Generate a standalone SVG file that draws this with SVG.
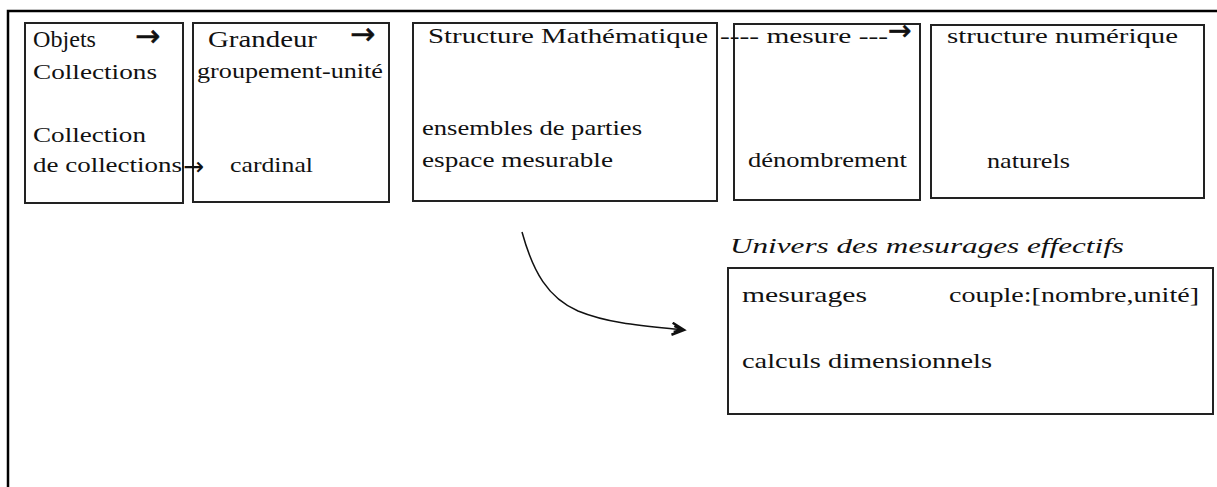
<svg xmlns="http://www.w3.org/2000/svg" width="1217" height="487" viewBox="0 0 1217 487">
<style>
.box{fill:none;stroke:#222;stroke-width:2}
.t{font-family:'Liberation Serif','DejaVu Serif','Times New Roman',serif;font-size:22px;fill:#111}
.arr{font-family:'DejaVu Sans','Liberation Sans',sans-serif;font-size:30px;fill:#111;stroke:#111;stroke-width:0.6}
.it{font-style:italic}
</style>
<defs>
<marker id="ah" markerWidth="16" markerHeight="14" refX="13" refY="7" orient="auto" markerUnits="userSpaceOnUse">
<path d="M1,1 L13,7 L1,13 M3,4 L11,7 L3,10" fill="none" stroke="#111" stroke-width="2.5"/>
</marker>
</defs>
<rect x="0" y="0" width="1217" height="487" fill="#fff"/>
<path d="M8,487 V11 H1217" fill="none" stroke="#000" stroke-width="2.5"/>

<g id="n-objets">
<rect class="box" x="25" y="23" width="158" height="180"/>
<text class="t" x="33" y="47" textLength="63" lengthAdjust="spacingAndGlyphs" style="font-size:23px">Objets</text>
<text class="arr" x="135" y="46">→</text>
<text class="t" x="33" y="79" textLength="124" lengthAdjust="spacingAndGlyphs">Collections</text>
<text class="t" x="33" y="142" textLength="113" lengthAdjust="spacingAndGlyphs">Collection</text>
<text class="t" x="33" y="172" textLength="149" lengthAdjust="spacingAndGlyphs">de collections</text>
</g>

<g id="n-grandeur">
<rect class="box" x="193" y="23" width="196" height="179"/>
<text class="t" x="208" y="47" textLength="109" lengthAdjust="spacingAndGlyphs" style="font-size:23px">Grandeur</text>
<text class="arr" x="350" y="44">→</text>
<text class="t" x="197" y="78" textLength="186" lengthAdjust="spacingAndGlyphs">groupement-unité</text>
<text class="t" x="230" y="172" textLength="83" lengthAdjust="spacingAndGlyphs">cardinal</text>
</g>

<g id="n-structure">
<rect class="box" x="413" y="23" width="304" height="178"/>
<text class="t" x="428" y="43" textLength="280" lengthAdjust="spacingAndGlyphs">Structure Mathématique</text>
<text class="t" x="422" y="135" textLength="220" lengthAdjust="spacingAndGlyphs">ensembles de parties</text>
<text class="t" x="422" y="167" textLength="191" lengthAdjust="spacingAndGlyphs">espace mesurable</text>
</g>

<g id="n-mesure">
<rect class="box" x="734" y="24" width="186" height="176"/>
<text class="t" x="748" y="167" textLength="159" lengthAdjust="spacingAndGlyphs">dénombrement</text>
</g>

<g id="n-numerique">
<rect class="box" x="931" y="25" width="273" height="173"/>
<text class="t" x="947" y="43" textLength="231" lengthAdjust="spacingAndGlyphs">structure numérique</text>
<text class="t" x="987" y="168" textLength="83" lengthAdjust="spacingAndGlyphs">naturels</text>
</g>

<g id="n-univers">
<text class="t it" x="730" y="253" textLength="394" lengthAdjust="spacingAndGlyphs">Univers des mesurages effectifs</text>
<rect class="box" x="728" y="268" width="485" height="146"/>
<text class="t" x="742" y="302" textLength="125" lengthAdjust="spacingAndGlyphs">mesurages</text>
<text class="t" x="949" y="302" textLength="250" lengthAdjust="spacingAndGlyphs">couple:[nombre,unité]</text>
<text class="t" x="742" y="368" textLength="250" lengthAdjust="spacingAndGlyphs">calculs dimensionnels</text>
</g>

<g id="connectors">
<text class="arr" x="183" y="175" style="font-size:25px;stroke-width:0">→</text>
<text class="t" x="720" y="43" textLength="168" lengthAdjust="spacingAndGlyphs">---- mesure ---</text>
<text class="arr" x="888" y="40" style="font-size:28px">→</text>
<path d="M522,232 C533,272 548,298 578,311 C610,324 645,326 684,330" fill="none" stroke="#111" stroke-width="1.5" marker-end="url(#ah)"/>
</g>
</svg>
